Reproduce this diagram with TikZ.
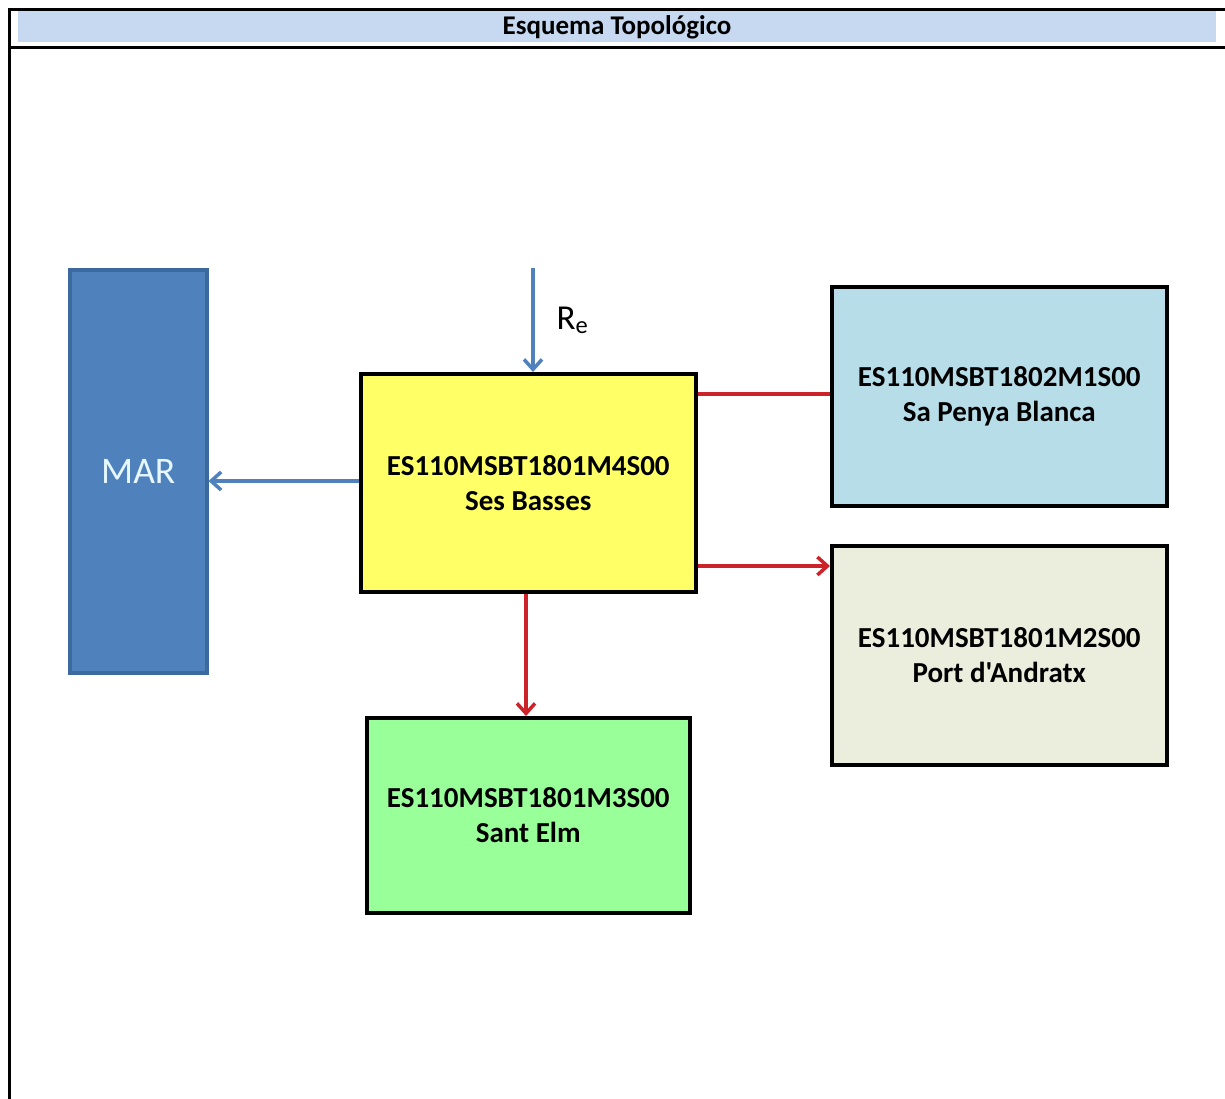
\documentclass[tikz,border=0pt]{standalone}
\usepackage{fontspec}
\setmainfont{Carlito}[Ligatures=TeXOff]
\usetikzlibrary{arrows.meta}
\definecolor{hdrblue}{HTML}{C6D9F1}
\definecolor{marblue}{HTML}{4F81BD}
\definecolor{marborder}{HTML}{3C6A9E}
\definecolor{boxyellow}{HTML}{FFFF66}
\definecolor{boxcyan}{HTML}{B7DDE8}
\definecolor{boxbeige}{HTML}{EBEEDC}
\definecolor{boxgreen}{HTML}{99FF99}
\definecolor{arrred}{HTML}{CC2229}
\begin{document}
\begin{tikzpicture}[x=1pt,y=-1pt,
  frame/.style={line width=3.2pt,black},
  wbox/.style={draw=black,line width=3.5pt,inner sep=0pt,font=\fontsize{29}{35}\selectfont\bfseries,align=center,anchor=north west},
  bluearr/.style={draw=marblue,line width=3.5pt,-{Straight Barb[length=10pt,width=18pt,line width=3.5pt]}},
  redline/.style={draw=arrred,line width=4pt},
  redarr/.style={redline,-{Straight Barb[length=10pt,width=18pt,line width=3.5pt]}}]
\useasboundingbox (0,0) rectangle (1225,1099);
% table frame
\fill[hdrblue] (18,11) rectangle (1216,42);
\node[font=\fontsize{27}{30}\selectfont\bfseries] (hdr) at (617,27) {Esquema Topológico};
\draw[frame] (8,9.5) -- (1226,9.5);
\draw[frame] (8,47.5) -- (1226,47.5);
\draw[frame] (9.5,8) -- (9.5,1100);
% boxes
\node[wbox,fill=marblue,draw=marborder,minimum width=137pt,minimum height=403pt,font=\fontsize{37.5}{40}\selectfont,text=white!90!cyan] (mar) at (68,268) {MAR};
\node[wbox,fill=boxyellow,minimum width=335pt,minimum height=218pt] (ses) at (359,372) {ES110MSBT1801M4S00\\Ses Basses};
\node[wbox,fill=boxcyan,minimum width=335pt,minimum height=219pt] (pen) at (830,285) {ES110MSBT1802M1S00\\Sa Penya Blanca};
\node[wbox,fill=boxbeige,minimum width=335pt,minimum height=219pt] (and) at (830,544) {ES110MSBT1801M2S00\\Port d'Andratx};
\node[wbox,fill=boxgreen,minimum width=323pt,minimum height=195pt] (elm) at (365,716) {ES110MSBT1801M3S00\\Sant Elm};
% connectors
\coordinate (retop) at (533,268);
\draw[bluearr] (retop) -- (ses.north -| retop);
\node[font=\fontsize{35}{38}\selectfont,anchor=west] (re) at (553,320) {R$_{\mathrm{e}}$};
\draw[bluearr] (ses.west |- 0,481) -- (mar.east |- 0,481);
\draw[redline] (ses.east |- 0,394) -- (pen.west |- 0,394);
\draw[redarr] (ses.east |- 0,566) -- (and.west |- 0,566);
\draw[redarr] (ses.south -| 526,0) -- (elm.north -| 526,0);
\end{tikzpicture}
\end{document}
